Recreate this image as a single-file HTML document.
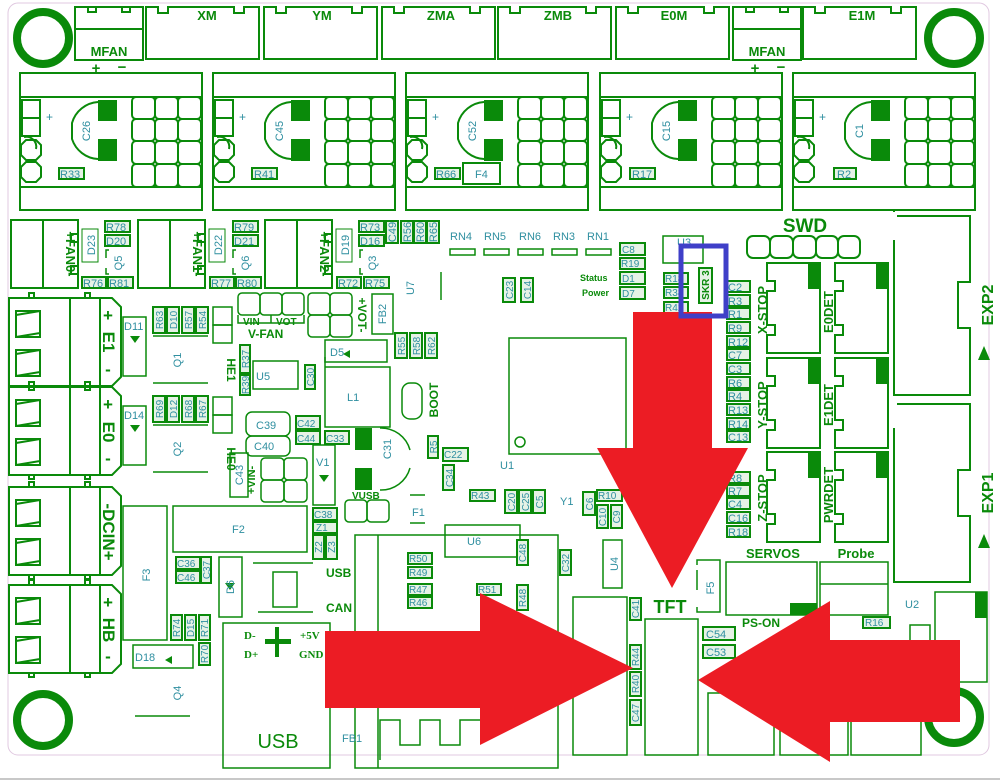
<!DOCTYPE html>
<html><head><meta charset="utf-8"><style>
html,body{margin:0;padding:0;background:#fff}
svg{display:block}
.g{fill:none;stroke:#0a8a0a;stroke-width:2}
.t{font-family:"Liberation Sans",sans-serif;font-size:11px;fill:#2f8fa0}
.b{font-family:"Liberation Sans",sans-serif;font-weight:bold;font-size:13px;fill:#0a8a0a}
.f{fill:#0a8a0a}
.lb{fill:#e6f2e6;stroke:#0a8a0a;stroke-width:2}
</style></head><body>
<svg width="1000" height="781" viewBox="0 0 1000 781" xmlns="http://www.w3.org/2000/svg">
<defs>
<g id="drv">
 <rect class="g" x="0" y="0" width="182" height="137"/>
 <line class="g" x1="0" y1="24" x2="182" y2="24"/>
 <line class="g" x1="0" y1="114" x2="182" y2="114"/>
 <rect class="g" x="2" y="27" width="18" height="18"/>
 <rect class="g" x="2" y="45" width="18" height="18"/>
 <path class="g" d="M4 64 a10 10 0 0 1 12 12"/>
 <path class="g" d="M6 67 h10 l5 5 v10 l-5 5 h-10 l-5 -5 v-10z M6 89 h10 l5 5 v10 l-5 5 h-10 l-5 -5 v-10z"/>
 <path class="g" d="M78 29 A29 29 0 0 0 52 50 L52 58 M78 86 A29 29 0 0 1 52 66 L52 58"/>
 <rect class="f" x="78" y="27" width="19" height="21"/>
 <rect class="f" x="78" y="66" width="19" height="22"/>
 <text class="t" x="26" y="48" style="font-size:12px">+</text>
 <g class="g">
  <rect x="112" y="24" width="23" height="22" rx="4"/><rect x="135" y="24" width="23" height="22" rx="4"/><rect x="158" y="24" width="23" height="22" rx="4"/>
  <rect x="112" y="46" width="23" height="22" rx="4"/><rect x="135" y="46" width="23" height="22" rx="4"/><rect x="158" y="46" width="23" height="22" rx="4"/>
  <rect x="112" y="68" width="23" height="23" rx="4"/><rect x="135" y="68" width="23" height="23" rx="4"/><rect x="158" y="68" width="23" height="23" rx="4"/>
  <rect x="112" y="91" width="23" height="23" rx="4"/><rect x="135" y="91" width="23" height="23" rx="4"/><rect x="158" y="91" width="23" height="23" rx="4"/>
 </g>
</g>
<g id="conn">
 <path class="g" d="M0 0 h12 v6 h10 v-6 h66 v6 h10 v-6 h15 v52 h-113z"/>
</g>
<g id="term">
 <path class="g" d="M0 0 h103 l9 9 v70 l-9 9 h-103z"/>
 <line class="g" x1="61" y1="0" x2="61" y2="88"/>
 <line class="g" x1="91" y1="0" x2="91" y2="88"/>
 <path class="g" d="M7 13 h24 v26 h-24z M7 17 L31 13 M7 39 L31 35"/>
 <path class="g" d="M7 52 h24 v26 h-24z M7 56 L31 52 M7 78 L31 74"/>
 <rect class="g" x="20" y="-5" width="5" height="5"/><rect class="g" x="76" y="-5" width="5" height="5"/>
 <rect class="g" x="20" y="88" width="5" height="4"/><rect class="g" x="76" y="88" width="5" height="4"/>
</g>
<g id="fan">
 <rect class="g" x="0" y="0" width="67" height="68"/>
 <line class="g" x1="32" y1="0" x2="32" y2="68"/>
 <path class="g" d="M67 0 v14 h-7 v8 h7 v24 h-7 v8 h7 v14"/>
</g>
<g id="es">
 <path class="g" d="M0 0 h53 v90 h-53 v-18 h8 v-10 h-8 v-34 h8 v-10 h-8z"/>
 <rect class="f" x="41" y="0" width="12" height="26"/>
</g>
</defs>

<!-- board outline -->
<rect x="8" y="3" width="981" height="752" rx="10" fill="none" stroke="#e0c8e0" stroke-width="1"/>
<line x1="0" y1="779" x2="1000" y2="779" stroke="#c8c8c8" stroke-width="2"/>

<!-- mount holes -->
<g fill="none" stroke="#0a8a0a" stroke-width="8">
<circle cx="43" cy="38" r="26"/><circle cx="954" cy="38" r="26"/>
<circle cx="43" cy="720" r="26"/><circle cx="954" cy="717" r="26"/>
</g>

<!-- top connectors -->
<rect class="g" x="75" y="7" width="68" height="53"/><line class="g" x1="75" y1="29" x2="143" y2="29"/>
<path class="g" d="M88 7 v5 h8 v-5 M122 7 v5 h8 v-5"/>
<text class="b" x="109" y="56" text-anchor="middle">MFAN</text>
<text class="b" x="96" y="73" text-anchor="middle" style="font-size:15px">+</text><text class="b" x="122" y="72" text-anchor="middle" style="font-size:15px">−</text>
<rect class="g" x="733" y="7" width="68" height="53"/><line class="g" x1="733" y1="29" x2="801" y2="29"/>
<path class="g" d="M746 7 v5 h8 v-5 M780 7 v5 h8 v-5"/>
<text class="b" x="767" y="56" text-anchor="middle">MFAN</text>
<text class="b" x="755" y="73" text-anchor="middle" style="font-size:15px">+</text><text class="b" x="781" y="72" text-anchor="middle" style="font-size:15px">−</text>
<use href="#conn" x="146" y="7"/><text class="b" x="207" y="20" text-anchor="middle">XM</text>
<use href="#conn" x="264" y="7"/><text class="b" x="322" y="20" text-anchor="middle">YM</text>
<use href="#conn" x="382" y="7"/><text class="b" x="441" y="20" text-anchor="middle">ZMA</text>
<use href="#conn" x="498" y="7"/><text class="b" x="558" y="20" text-anchor="middle">ZMB</text>
<use href="#conn" x="616" y="7"/><text class="b" x="674" y="20" text-anchor="middle">E0M</text>
<use href="#conn" x="803" y="7"/><text class="b" x="862" y="20" text-anchor="middle">E1M</text>

<!-- drivers -->
<use href="#drv" x="20" y="73"/><use href="#drv" x="213" y="73"/><use href="#drv" x="406" y="73"/><use href="#drv" x="600" y="73"/><use href="#drv" x="793" y="73"/>
<g class="t">
<text transform="translate(90,131) rotate(-90)" text-anchor="middle">C26</text>
<text transform="translate(283,131) rotate(-90)" text-anchor="middle">C45</text>
<text transform="translate(476,131) rotate(-90)" text-anchor="middle">C52</text>
<text transform="translate(670,131) rotate(-90)" text-anchor="middle">C15</text>
<text transform="translate(863,131) rotate(-90)" text-anchor="middle">C1</text>
</g>
<g><rect class="lb" x="59" y="168" width="25" height="11"/><rect class="lb" x="252" y="168" width="25" height="11"/><rect class="lb" x="435" y="168" width="25" height="11"/><rect class="lb" x="630" y="168" width="25" height="11"/><rect class="lb" x="834" y="168" width="22" height="11"/></g>
<g class="t"><text x="60" y="178">R33</text><text x="254" y="178">R41</text><text x="436" y="178">R66</text><text x="632" y="178">R17</text><text x="837" y="178">R2</text></g>
<rect class="g" x="463" y="163" width="37" height="21" fill="#fff" style="fill:#fff"/><text class="t" x="475" y="178">F4</text>

<!-- fans -->
<use href="#fan" x="11" y="220"/><use href="#fan" x="138" y="220"/><use href="#fan" x="265" y="220"/>
<g class="b" style="font-size:13px">
<text transform="translate(66,254) rotate(90)" text-anchor="middle">+FAN0-</text>
<text transform="translate(193,254) rotate(90)" text-anchor="middle">+FAN1-</text>
<text transform="translate(320,254) rotate(90)" text-anchor="middle">+FAN2-</text>
</g>
<g id="fanparts">
<rect class="g" x="82" y="229" width="16" height="33" style="stroke-width:1"/>
<path class="g" d="M106 258 v-8 h3 M106 268 v6 h3" style="stroke-width:1.5"/>
</g>
<use href="#fanparts" x="127"/><use href="#fanparts" x="254"/>
<g>
<rect class="lb" x="105" y="221" width="25" height="11"/><rect class="lb" x="105" y="235" width="25" height="11"/><rect class="lb" x="82" y="277" width="24" height="11"/><rect class="lb" x="108" y="277" width="25" height="11"/>
<rect class="lb" x="233" y="221" width="25" height="11"/><rect class="lb" x="233" y="235" width="25" height="11"/><rect class="lb" x="210" y="277" width="24" height="11"/><rect class="lb" x="236" y="277" width="25" height="11"/>
<rect class="lb" x="359" y="221" width="25" height="11"/><rect class="lb" x="359" y="235" width="25" height="11"/><rect class="lb" x="337" y="277" width="24" height="11"/><rect class="lb" x="364" y="277" width="25" height="11"/>
<rect class="lb" x="386" y="221" width="12" height="22"/><rect class="lb" x="401" y="221" width="12" height="22"/><rect class="lb" x="414" y="221" width="12" height="22"/><rect class="lb" x="427" y="221" width="12" height="22"/>
</g>
<g class="t">
<text x="106" y="231">R78</text><text x="106" y="245">D20</text><text x="83" y="287">R76</text><text x="109" y="287">R81</text>
<text x="234" y="231">R79</text><text x="234" y="245">D21</text><text x="211" y="287">R77</text><text x="237" y="287">R80</text>
<text x="360" y="231">R73</text><text x="360" y="245">D16</text><text x="338" y="287">R72</text><text x="365" y="287">R75</text>
<text transform="translate(95,245) rotate(-90)" text-anchor="middle">D23</text>
<text transform="translate(222,245) rotate(-90)" text-anchor="middle">D22</text>
<text transform="translate(349,245) rotate(-90)" text-anchor="middle">D19</text>
<text transform="translate(122,263) rotate(-90)" text-anchor="middle">Q5</text>
<text transform="translate(249,263) rotate(-90)" text-anchor="middle">Q6</text>
<text transform="translate(376,263) rotate(-90)" text-anchor="middle">Q3</text>
<text transform="translate(396,232) rotate(-90)" text-anchor="middle">C49</text>
<text transform="translate(411,232) rotate(-90)" text-anchor="middle">R56</text>
<text transform="translate(424,232) rotate(-90)" text-anchor="middle">R60</text>
<text transform="translate(437,232) rotate(-90)" text-anchor="middle">R65</text>
<text x="450" y="240" style="font-size:11px">RN4</text><text x="484" y="240">RN5</text><text x="519" y="240">RN6</text><text x="553" y="240">RN3</text><text x="587" y="240">RN1</text>
</g>
<g class="g" style="stroke-width:1.5"><rect x="450" y="249" width="25" height="6"/><rect x="484" y="249" width="25" height="6"/><rect x="518" y="249" width="25" height="6"/><rect x="552" y="249" width="25" height="6"/><rect x="586" y="249" width="25" height="6"/></g>

<!-- left terminals -->
<use href="#term" x="9" y="298"/><use href="#term" x="9" y="387"/><use href="#term" x="9" y="487"/><use href="#term" x="9" y="585"/>
<g class="b" style="font-size:17px">
<text x="108" y="321" text-anchor="middle">+</text><text transform="translate(103,342) rotate(90)" text-anchor="middle">E1</text><text x="108" y="375" text-anchor="middle">-</text>
<text x="108" y="410" text-anchor="middle">+</text><text transform="translate(103,432) rotate(90)" text-anchor="middle">E0</text><text x="108" y="464" text-anchor="middle">-</text>
<text transform="translate(103,532) rotate(90)" text-anchor="middle">-DCIN+</text>
<text x="108" y="608" text-anchor="middle">+</text><text transform="translate(103,630) rotate(90)" text-anchor="middle">HB</text><text x="108" y="662" text-anchor="middle">-</text>
</g>

<!-- middle left parts -->
<g class="g" style="stroke-width:1.5">
<rect x="123" y="317" width="23" height="59"/><rect x="123" y="406" width="23" height="59"/>
<line x1="153" y1="383" x2="208" y2="383"/><line x1="153" y1="472" x2="208" y2="472"/>
<line x1="153" y1="336" x2="208" y2="336"/><line x1="153" y1="425" x2="208" y2="425"/>
<rect x="213" y="307" width="19" height="18"/><rect x="213" y="325" width="19" height="18"/>
<rect x="213" y="397" width="19" height="18"/><rect x="213" y="415" width="19" height="18"/>
<rect x="253" y="361" width="45" height="28"/>
<rect x="123" y="506" width="44" height="134"/>
<rect x="173" y="506" width="134" height="46"/>
<rect x="219" y="557" width="23" height="60"/>
<rect x="133" y="645" width="60" height="23"/>
<line x1="135" y1="716" x2="190" y2="716"/>
<line x1="253" y1="563" x2="313" y2="563"/><line x1="258" y1="612" x2="313" y2="612"/>
<rect x="273" y="572" width="24" height="35"/>
<rect x="223" y="623" width="107" height="145"/>
<rect x="325" y="340" width="62" height="22"/>
<path d="M325 367 v-10 M325 367 h65 v60 h-65z"/>
<rect x="402" y="383" width="20" height="36" rx="8"/>
<rect x="372" y="294" width="21" height="40"/>
<rect x="313" y="445" width="22" height="60"/>
<rect x="246" y="412" width="44" height="24" rx="6"/><rect x="246" y="436" width="44" height="20" rx="6"/>
<rect x="230" y="453" width="18" height="44"/>
<rect x="238" y="293" width="22" height="22" rx="4"/><rect x="260" y="293" width="22" height="22" rx="4"/><rect x="282" y="293" width="22" height="22" rx="4"/>
<path d="M238 315 v8 h66 v-8 M271 315 v8"/>
<rect x="308" y="293" width="22" height="22" rx="4"/><rect x="330" y="293" width="22" height="22" rx="4"/>
<rect x="308" y="315" width="22" height="22" rx="4"/><rect x="330" y="315" width="22" height="22" rx="4"/>
<rect x="261" y="458" width="23" height="22" rx="4"/><rect x="284" y="458" width="23" height="22" rx="4"/>
<rect x="261" y="480" width="23" height="22" rx="4"/><rect x="284" y="480" width="23" height="22" rx="4"/>
<rect x="345" y="500" width="22" height="22" rx="4"/><rect x="367" y="500" width="22" height="22" rx="4"/>
<path d="M410 495 h15 M410 523 h15"/>
<path d="M380 428 A30 30 0 0 1 410 450 M380 490 A30 30 0 0 0 410 468"/>
<rect x="355" y="535" width="203" height="233"/><line x1="378" y1="535" x2="378" y2="768"/>
<rect x="445" y="525" width="75" height="32"/>
<rect x="603" y="540" width="19" height="48"/>
<rect x="509" y="338" width="117" height="116"/>
<circle cx="520" cy="442" r="5"/>
<rect x="663" y="236" width="40" height="27"/>
<line x1="441" y1="272" x2="441" y2="300"/>
<rect x="573" y="597" width="54" height="158"/>
<rect x="645" y="619" width="53" height="136"/>
<path d="M697 565 v-5 h23 v52 h-23 v-5 M697 590 v-20"/>
<rect x="726" y="562" width="91" height="53"/>
<rect x="820" y="562" width="68" height="53"/><line x1="820" y1="584" x2="888" y2="584"/>
<rect x="935" y="592" width="52" height="90"/>
<rect x="708" y="693" width="66" height="62"/><rect x="780" y="720" width="68" height="35"/><rect x="851" y="720" width="70" height="35"/>
<rect x="910" y="625" width="20" height="50"/>
<path d="M380 760 v-40 h20 v25 h20 v-25 h20 v25 h20 v-25 h20"/>
</g>
<rect class="f" x="355" y="428" width="17" height="22"/><rect class="f" x="355" y="468" width="17" height="22"/>
<rect class="f" x="790" y="603" width="27" height="12"/><rect class="f" x="975" y="592" width="12" height="26"/>
<path class="f" d="M273 634 h10 v-12 h4 v12 h12 v5 h-12 v13 h-4 v-13 h-10z" transform="translate(-8,5)"/>
<g class="f">
<polygon points="130,336 140,336 135,343"/><polygon points="130,425 140,425 135,432"/>
<polygon points="225,583 235,583 230,590"/><polygon points="172,656 172,664 165,660"/>
<polygon points="350,350 350,358 343,354"/><polygon points="319,475 329,475 324,482"/>
</g>

<g class="t">
<text x="124" y="330">D11</text><text x="124" y="419">D14</text>
<text transform="translate(181,360) rotate(-90)" text-anchor="middle">Q1</text>
<text transform="translate(181,449) rotate(-90)" text-anchor="middle">Q2</text>
<text transform="translate(181,693) rotate(-90)" text-anchor="middle">Q4</text>
<text transform="translate(150,575) rotate(-90)" text-anchor="middle">F3</text>
<text x="232" y="533">F2</text><text x="256" y="380">U5</text><text x="347" y="401">L1</text>
<text x="330" y="356">D5</text><text x="316" y="466">V1</text><text x="412" y="516">F1</text>
<text x="135" y="661">D18</text><text x="467" y="545">U6</text>
<text transform="translate(234,587) rotate(-90)" text-anchor="middle">D6</text>
<text transform="translate(386,314) rotate(-90)" text-anchor="middle">FB2</text>
<text transform="translate(391,449) rotate(-90)" text-anchor="middle">C31</text>
<text transform="translate(243,475) rotate(-90)" text-anchor="middle">C43</text>
<text x="256" y="429">C39</text><text x="254" y="450">C40</text>
<text transform="translate(618,564) rotate(-90)" text-anchor="middle">U4</text>
<text x="500" y="469">U1</text><text x="560" y="505">Y1</text>
<text transform="translate(414,288) rotate(-90)" text-anchor="middle">U7</text>
<text x="677" y="246">U3</text><text x="905" y="608">U2</text>
<text transform="translate(714,588) rotate(-90)" text-anchor="middle">F5</text>
</g>
<!-- small labelled resistors -->
<g>
<rect class="lb" x="153" y="307" width="12" height="26"/><rect class="lb" x="167" y="307" width="12" height="26"/><rect class="lb" x="182" y="307" width="12" height="26"/><rect class="lb" x="196" y="307" width="12" height="26"/>
<rect class="lb" x="153" y="396" width="12" height="26"/><rect class="lb" x="167" y="396" width="12" height="26"/><rect class="lb" x="182" y="396" width="12" height="26"/><rect class="lb" x="196" y="396" width="12" height="26"/>
<rect class="lb" x="240" y="345" width="10" height="28"/><rect class="lb" x="240" y="375" width="10" height="20"/><rect class="lb" x="305" y="365" width="10" height="24"/>
<rect class="lb" x="395" y="333" width="12" height="25"/><rect class="lb" x="410" y="333" width="12" height="25"/><rect class="lb" x="425" y="333" width="12" height="25"/>
<rect class="lb" x="296" y="416" width="24" height="13"/><rect class="lb" x="296" y="431" width="24" height="13"/><rect class="lb" x="325" y="431" width="24" height="13"/>
<rect class="lb" x="428" y="436" width="10" height="22"/><rect class="lb" x="443" y="448" width="25" height="13"/><rect class="lb" x="443" y="465" width="11" height="25"/><rect class="lb" x="470" y="490" width="25" height="11"/>
<rect class="lb" x="313" y="508" width="24" height="12"/><rect class="lb" x="313" y="522" width="24" height="11"/><rect class="lb" x="313" y="535" width="11" height="24"/><rect class="lb" x="326" y="535" width="11" height="24"/>
<rect class="lb" x="176" y="557" width="24" height="12"/><rect class="lb" x="176" y="571" width="24" height="12"/><rect class="lb" x="201" y="557" width="10" height="26"/>
<rect class="lb" x="171" y="615" width="11" height="25"/><rect class="lb" x="185" y="615" width="11" height="25"/><rect class="lb" x="199" y="615" width="11" height="25"/><rect class="lb" x="199" y="643" width="11" height="22"/>
<rect class="lb" x="408" y="553" width="24" height="11"/><rect class="lb" x="408" y="567" width="24" height="11"/><rect class="lb" x="408" y="584" width="24" height="11"/><rect class="lb" x="408" y="597" width="24" height="11"/><rect class="lb" x="477" y="584" width="24" height="11"/>
<rect class="lb" x="517" y="540" width="11" height="25"/><rect class="lb" x="517" y="585" width="11" height="25"/><rect class="lb" x="560" y="550" width="11" height="25"/>
<rect class="lb" x="503" y="278" width="12" height="24"/><rect class="lb" x="521" y="278" width="12" height="24"/>
<rect class="lb" x="620" y="243" width="25" height="12"/><rect class="lb" x="620" y="258" width="25" height="11"/><rect class="lb" x="620" y="272" width="25" height="12"/><rect class="lb" x="620" y="287" width="25" height="12"/>
<rect class="lb" x="664" y="273" width="24" height="11"/><rect class="lb" x="664" y="287" width="24" height="11"/><rect class="lb" x="664" y="302" width="24" height="11"/>
<rect class="lb" x="699" y="268" width="13" height="35"/>
<rect class="lb" x="505" y="490" width="12" height="23"/><rect class="lb" x="519" y="490" width="12" height="23"/><rect class="lb" x="533" y="490" width="12" height="23"/><rect class="lb" x="583" y="492" width="12" height="23"/>
<rect class="lb" x="597" y="490" width="25" height="11"/><rect class="lb" x="597" y="505" width="11" height="23"/><rect class="lb" x="611" y="505" width="11" height="23"/>
<rect class="lb" x="630" y="598" width="11" height="22"/><rect class="lb" x="630" y="645" width="11" height="24"/><rect class="lb" x="630" y="672" width="11" height="24"/><rect class="lb" x="630" y="700" width="11" height="25"/>
<rect class="lb" x="703" y="627" width="32" height="13"/><rect class="lb" x="703" y="645" width="32" height="13"/>
<rect class="lb" x="863" y="617" width="27" height="11"/>
</g>
<g class="t" style="font-size:10px">
<g text-anchor="middle">
<text transform="translate(163,320) rotate(-90)">R63</text><text transform="translate(177,320) rotate(-90)">D10</text><text transform="translate(192,320) rotate(-90)">R57</text><text transform="translate(206,320) rotate(-90)">R54</text>
<text transform="translate(163,409) rotate(-90)">R69</text><text transform="translate(177,409) rotate(-90)">D12</text><text transform="translate(192,409) rotate(-90)">R68</text><text transform="translate(206,409) rotate(-90)">R67</text>
<text transform="translate(249,359) rotate(-90)">R37</text><text transform="translate(249,385) rotate(-90)">R39</text><text transform="translate(314,377) rotate(-90)">C30</text>
<text transform="translate(405,346) rotate(-90)">R55</text><text transform="translate(420,346) rotate(-90)">R58</text><text transform="translate(435,346) rotate(-90)">R62</text>
<text transform="translate(437,447) rotate(-90)">R5</text><text transform="translate(453,478) rotate(-90)">C34</text>
<text transform="translate(322,547) rotate(-90)">Z2</text><text transform="translate(335,547) rotate(-90)">Z3</text><text transform="translate(210,570) rotate(-90)">C37</text>
<text transform="translate(180,628) rotate(-90)">R74</text><text transform="translate(194,628) rotate(-90)">D15</text><text transform="translate(208,628) rotate(-90)">R71</text><text transform="translate(208,654) rotate(-90)">R70</text>
<text transform="translate(526,553) rotate(-90)">C48</text><text transform="translate(526,598) rotate(-90)">R48</text><text transform="translate(569,563) rotate(-90)">C32</text>
<text transform="translate(513,290) rotate(-90)">C23</text><text transform="translate(531,290) rotate(-90)">C14</text>
<text transform="translate(515,502) rotate(-90)">C20</text><text transform="translate(529,502) rotate(-90)">C25</text><text transform="translate(543,502) rotate(-90)">C5</text><text transform="translate(593,504) rotate(-90)">C6</text>
<text transform="translate(606,517) rotate(-90)">C10</text><text transform="translate(620,517) rotate(-90)">C9</text>
<text transform="translate(639,609) rotate(-90)">C41</text><text transform="translate(639,657) rotate(-90)">R44</text><text transform="translate(639,684) rotate(-90)">R40</text><text transform="translate(639,713) rotate(-90)">C47</text>
</g>
<text x="297" y="427">C42</text><text x="297" y="442">C44</text><text x="326" y="442">C33</text><text x="444" y="458">C22</text><text x="471" y="499">R43</text>
<text x="314" y="518">C38</text><text x="316" y="531">Z1</text><text x="177" y="567">C36</text><text x="177" y="581">C46</text>
<text x="409" y="562">R50</text><text x="409" y="576">R49</text><text x="409" y="593">R47</text><text x="409" y="606">R46</text><text x="478" y="593">R51</text>
<text x="622" y="253">C8</text><text x="621" y="267">R19</text><text x="622" y="282">D1</text><text x="622" y="297">D7</text>
<text x="665" y="282">R18</text><text x="665" y="296">R38</text><text x="665" y="311">R42</text>
<text x="598" y="499">R10</text>
<text x="706" y="638" style="font-size:11px">C54</text><text x="706" y="656" style="font-size:11px">C53</text><text x="865" y="626">R16</text>
</g>
<text class="b" transform="translate(709,285) rotate(-90)" text-anchor="middle" style="font-size:10px">SKR 3</text>
<g class="b" style="font-size:9px"><text x="580" y="281">Status</text><text x="582" y="296">Power</text></g>
<g class="b" style="font-size:10px">
<text x="243" y="325">VIN</text><text x="276" y="325">VOT</text>
</g>
<text class="b" x="248" y="338" style="font-size:12px">V-FAN</text>
<text class="b" transform="translate(358,315) rotate(90)" text-anchor="middle" style="font-size:12px">+VOT-</text>
<text class="b" transform="translate(255,480) rotate(-90)" text-anchor="middle" style="font-size:11px">+VIN-</text>
<text class="b" x="352" y="499" style="font-size:10px">VUSB</text>
<text class="b" transform="translate(438,400) rotate(-90)" text-anchor="middle" style="font-size:12px">BOOT</text>
<text class="b" transform="translate(227,370) rotate(90)" text-anchor="middle" style="font-size:12px">HE1</text>
<text class="b" transform="translate(227,459) rotate(90)" text-anchor="middle" style="font-size:12px">HE0</text>
<text class="b" x="326" y="577" style="font-size:12px">USB</text><text class="b" x="326" y="612" style="font-size:12px">CAN</text>
<g style="font-family:'Liberation Serif',serif;font-weight:bold;font-size:11px;fill:#0a8a0a">
<text x="244" y="639">D-</text><text x="244" y="658">D+</text><text x="300" y="639">+5V</text><text x="299" y="658">GND</text>
</g>
<text x="278" y="748" text-anchor="middle" style="font-family:'Liberation Sans',sans-serif;font-size:20px;fill:#0a8a0a">USB</text>
<text class="t" x="342" y="742">FB1</text>
<text class="b" x="670" y="613" text-anchor="middle" style="font-size:18px">TFT</text>
<text class="b" x="742" y="627" style="font-size:12px">PS-ON</text>
<text class="b" x="773" y="558" text-anchor="middle" style="font-size:13px">SERVOS</text>
<text class="b" x="856" y="558" text-anchor="middle" style="font-size:13px">Probe</text>

<!-- right side -->
<text class="b" x="805" y="232" text-anchor="middle" style="font-size:19px">SWD</text>
<g class="g"><rect x="747" y="236" width="23" height="22" rx="6"/><rect x="770" y="236" width="23" height="22" rx="6"/><rect x="793" y="236" width="23" height="22" rx="6"/><rect x="816" y="236" width="22" height="22" rx="6"/><rect x="838" y="236" width="22" height="22" rx="6"/></g>
<use href="#es" x="767" y="263"/><use href="#es" x="835" y="263"/>
<use href="#es" x="767" y="358"/><use href="#es" x="835" y="358"/>
<use href="#es" x="767" y="452"/><use href="#es" x="835" y="452"/>
<g class="b" style="font-size:13px" text-anchor="middle">
<text transform="translate(767,310) rotate(-90)">X-STOP</text>
<text transform="translate(767,405) rotate(-90)">Y-STOP</text>
<text transform="translate(767,498) rotate(-90)">Z-STOP</text>
<text transform="translate(833,312) rotate(-90)">E0DET</text>
<text transform="translate(833,405) rotate(-90)">E1DET</text>
<text transform="translate(833,495) rotate(-90)">PWRDET</text>
<text transform="translate(993,305) rotate(-90)" style="font-size:16px">EXP2</text>
<text transform="translate(993,493) rotate(-90)" style="font-size:16px">EXP1</text>
</g>
<g>
<rect class="lb" x="727" y="281" width="23" height="11"/><rect class="lb" x="727" y="295" width="23" height="11"/><rect class="lb" x="727" y="308" width="23" height="11"/><rect class="lb" x="727" y="322" width="23" height="11"/><rect class="lb" x="727" y="336" width="23" height="11"/><rect class="lb" x="727" y="349" width="23" height="11"/><rect class="lb" x="727" y="363" width="23" height="11"/><rect class="lb" x="727" y="377" width="23" height="11"/><rect class="lb" x="727" y="390" width="23" height="11"/><rect class="lb" x="727" y="404" width="23" height="11"/><rect class="lb" x="727" y="418" width="23" height="11"/><rect class="lb" x="727" y="431" width="23" height="11"/>
<rect class="lb" x="727" y="472" width="23" height="11"/><rect class="lb" x="727" y="485" width="23" height="11"/><rect class="lb" x="727" y="498" width="23" height="11"/><rect class="lb" x="727" y="512" width="23" height="11"/><rect class="lb" x="727" y="526" width="23" height="11"/>
</g>
<g class="t" style="font-size:11px">
<text x="728" y="291">C2</text><text x="728" y="305">R3</text><text x="728" y="318">R1</text><text x="728" y="332">R9</text><text x="728" y="346">R12</text><text x="728" y="359">C7</text><text x="728" y="373">C3</text><text x="728" y="387">R6</text><text x="728" y="400">R4</text><text x="728" y="414">R13</text><text x="728" y="428">R14</text><text x="728" y="441">C13</text>
<text x="728" y="482">R8</text><text x="728" y="495">R7</text><text x="728" y="508">C4</text><text x="728" y="522">C16</text><text x="728" y="536">R18</text>
</g>
<path class="g" d="M897 216 h73 v66 h-12 v46 h12 v67 h-76 v-155"/>
<path class="g" d="M897 404 h73 v66 h-12 v46 h12 v66 h-76 v-154"/>
<polygon class="f" points="978,360 990,360 984,346"/><polygon class="f" points="978,548 990,548 984,534"/>
<path class="g" d="M894 212 v-3" />

<!-- red arrows -->
<g fill="#ec1c24">
<polygon points="633,312 712,312 712,448 748,448 672,588 597,448 633,448"/>
<polygon points="325,631 480,631 480,593 633,668 480,745 480,708 325,708"/>
<polygon points="960,640 830,640 830,601 698,680 830,762 830,722 960,722"/>
</g>
<!-- blue box -->
<rect x="681" y="246" width="45" height="70" fill="none" stroke="#3f3fc8" stroke-width="5"/>
</svg>
</body></html>
